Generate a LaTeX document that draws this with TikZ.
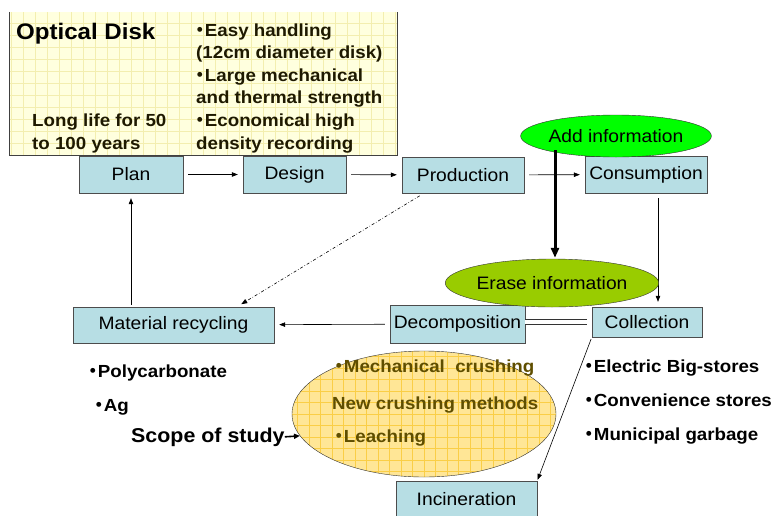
\documentclass[tikz,border=0pt]{standalone}
\usepackage{fontspec}
\setmainfont[FakeStretch=1.07]{Liberation Sans}
\newfontfamily\cjk[RawFeature=+palt]{Noto Sans CJK JP}
\usetikzlibrary{positioning, arrows.meta, shapes.geometric}
\definecolor{boxfill}{RGB}{183,222,228}
\definecolor{memo}{RGB}{255,255,222}
\definecolor{memogrid}{RGB}{243,238,175}
\definecolor{memotext}{RGB}{30,25,0}
\definecolor{addgreen}{RGB}{0,255,0}
\definecolor{erasegreen}{RGB}{153,204,0}
\definecolor{scopefill}{RGB}{255,230,150}
\definecolor{scopegrid}{RGB}{250,206,70}
\definecolor{olivetext}{RGB}{95,78,0}
\newcommand{\bul}{{\cjk ・}}
\tikzset{
  stage/.style={draw=black!70, fill=boxfill, font=\fontsize{18}{20}\selectfont,
                minimum height=37pt, inner sep=0pt},
  info/.style={ellipse, draw=black!80, inner sep=0pt, font=\fontsize{18}{20}\selectfont},
  note/.style={anchor=base west, inner sep=0pt, font=\bfseries\fontsize{17.5}{20}\selectfont},
  arr/.style={-{Triangle[length=6pt,width=4.5pt]}, semithin, shorten <=5pt, shorten >=5pt},
  semithin/.style={line width=0.6pt},
  bigarr/.style={-{Triangle[length=10pt,width=8pt]}, line width=3pt},
}

\begin{document}
\begin{tikzpicture}[x=1pt, y=-1pt]
  \useasboundingbox (0,0) rectangle (777,515);

  % memo with the disk features
  \node[fill=memo, minimum width=388pt, minimum height=143pt, inner sep=0pt,
        path picture={\draw[memogrid, step=12pt] (path picture bounding box.south west)
                      grid (path picture bounding box.north east);}] (memo) at (203,83.5) {};
  \draw[black!75] (memo.north west) -- (memo.south west) -- (memo.south east) -- (memo.north east);
  \node[anchor=base west, inner sep=0pt, text=black, font=\bfseries\fontsize{22.5}{24}\selectfont]
    (title) at (16,39) {Optical Disk};
  \foreach \txt [count=\i] in {\bul Easy handling, (12cm diameter disk), \bul Large mechanical,
                               and thermal strength, \bul Economical high, density recording}
    \node[note, text=memotext] (feat\i) at (196,{36+22.6*(\i-1)}) {\txt};
  \node[note, text=memotext] (life1) at (32,126) {Long life for 50};
  \node[note, text=memotext] (life2) at (32,149) {to 100 years};

  % life cycle stages
  \node[stage, minimum width=104pt] (plan) at (131,174.5) {Plan};
  \node[stage, minimum width=103pt] (design) at (294.5,174.5) {Design};
  \node[stage, minimum width=122pt, minimum height=36pt] (prod) at (463,175) {Production};
  \node[stage, minimum width=122pt] (cons) at (646,174.5) {Consumption};
  \node[stage, minimum width=110pt, minimum height=30pt] (coll) at (647,322) {Collection};
  \node[stage, minimum width=135pt, minimum height=38pt] (decomp) at (457.5,324) {Decomposition};
  \node[stage, minimum width=201pt, minimum height=36pt] (matrec) at (173.5,325) {Material recycling};
  \node[stage, minimum width=141pt, minimum height=36pt] (incin) at (466.5,499) {Incineration};

  \draw[arr] (plan) -- (design);
  \draw[arr] (design) -- (prod);
  \draw[arr] (prod) -- (cons);
  \draw[arr] ([xshift=12pt]cons.south) -- ([xshift=11pt]coll.north);
  \draw[arr] (decomp) -- (matrec);
  \draw[arr, shorten <=2pt] (matrec.north -| plan) -- (plan);
  \draw[arr, dash dot] (prod.205) -- (matrec.16);
  \draw[black!80, semithin, double, double distance=4pt, shorten >=5pt] (decomp.east |- coll.west) -- (coll.west);

  % information handling
  \node[info, fill=addgreen, minimum width=158pt, minimum height=42pt] (add) at (616,136) {Add information};
  \node[info, fill=erasegreen, minimum width=190pt, minimum height=48pt] (erase) at (552,283) {Erase information};
  \draw[bigarr, shorten >=1pt] ([xshift=-61pt, yshift=7pt]add.south) -- ([xshift=3pt]erase.north);

  \draw[arr, shorten <=2pt, shorten >=1pt] (coll.south west) -- (incin.north east);

  % scope of study
  \node[ellipse, draw=black!80, fill=scopefill, minimum width=264pt, minimum height=126pt, inner sep=0pt,
        path picture={\draw[scopegrid, step=11.5pt] (path picture bounding box.south west)
                      grid (path picture bounding box.north east);}] (crush) at (424,414) {};
  \node[note, text=olivetext] (mech) at (335,372) {\bul Mechanical\ \ crushing};
  \node[note, text=olivetext] (newm) at (332,409) {New crushing methods};
  \node[note, text=olivetext] (leach) at (335,442) {\bul Leaching};

  \node[note] (pc) at (89,377) {\bul Polycarbonate};
  \node[note] (ag) at (95,411) {\bul Ag};
  \node[note, font=\bfseries\fontsize{20}{22}\selectfont] (scope) at (131,442) {Scope of study};
  \draw[-{Triangle[length=6pt,width=5pt]}, line width=1.6pt] (scope.east) -- (crush.190);

  \node[note] (shop1) at (585,372) {\bul Electric Big-stores};
  \node[note] (shop2) at (585,406) {\bul Convenience stores};
  \node[note] (shop3) at (585,440) {\bul Municipal garbage};
\end{tikzpicture}
\end{document}
